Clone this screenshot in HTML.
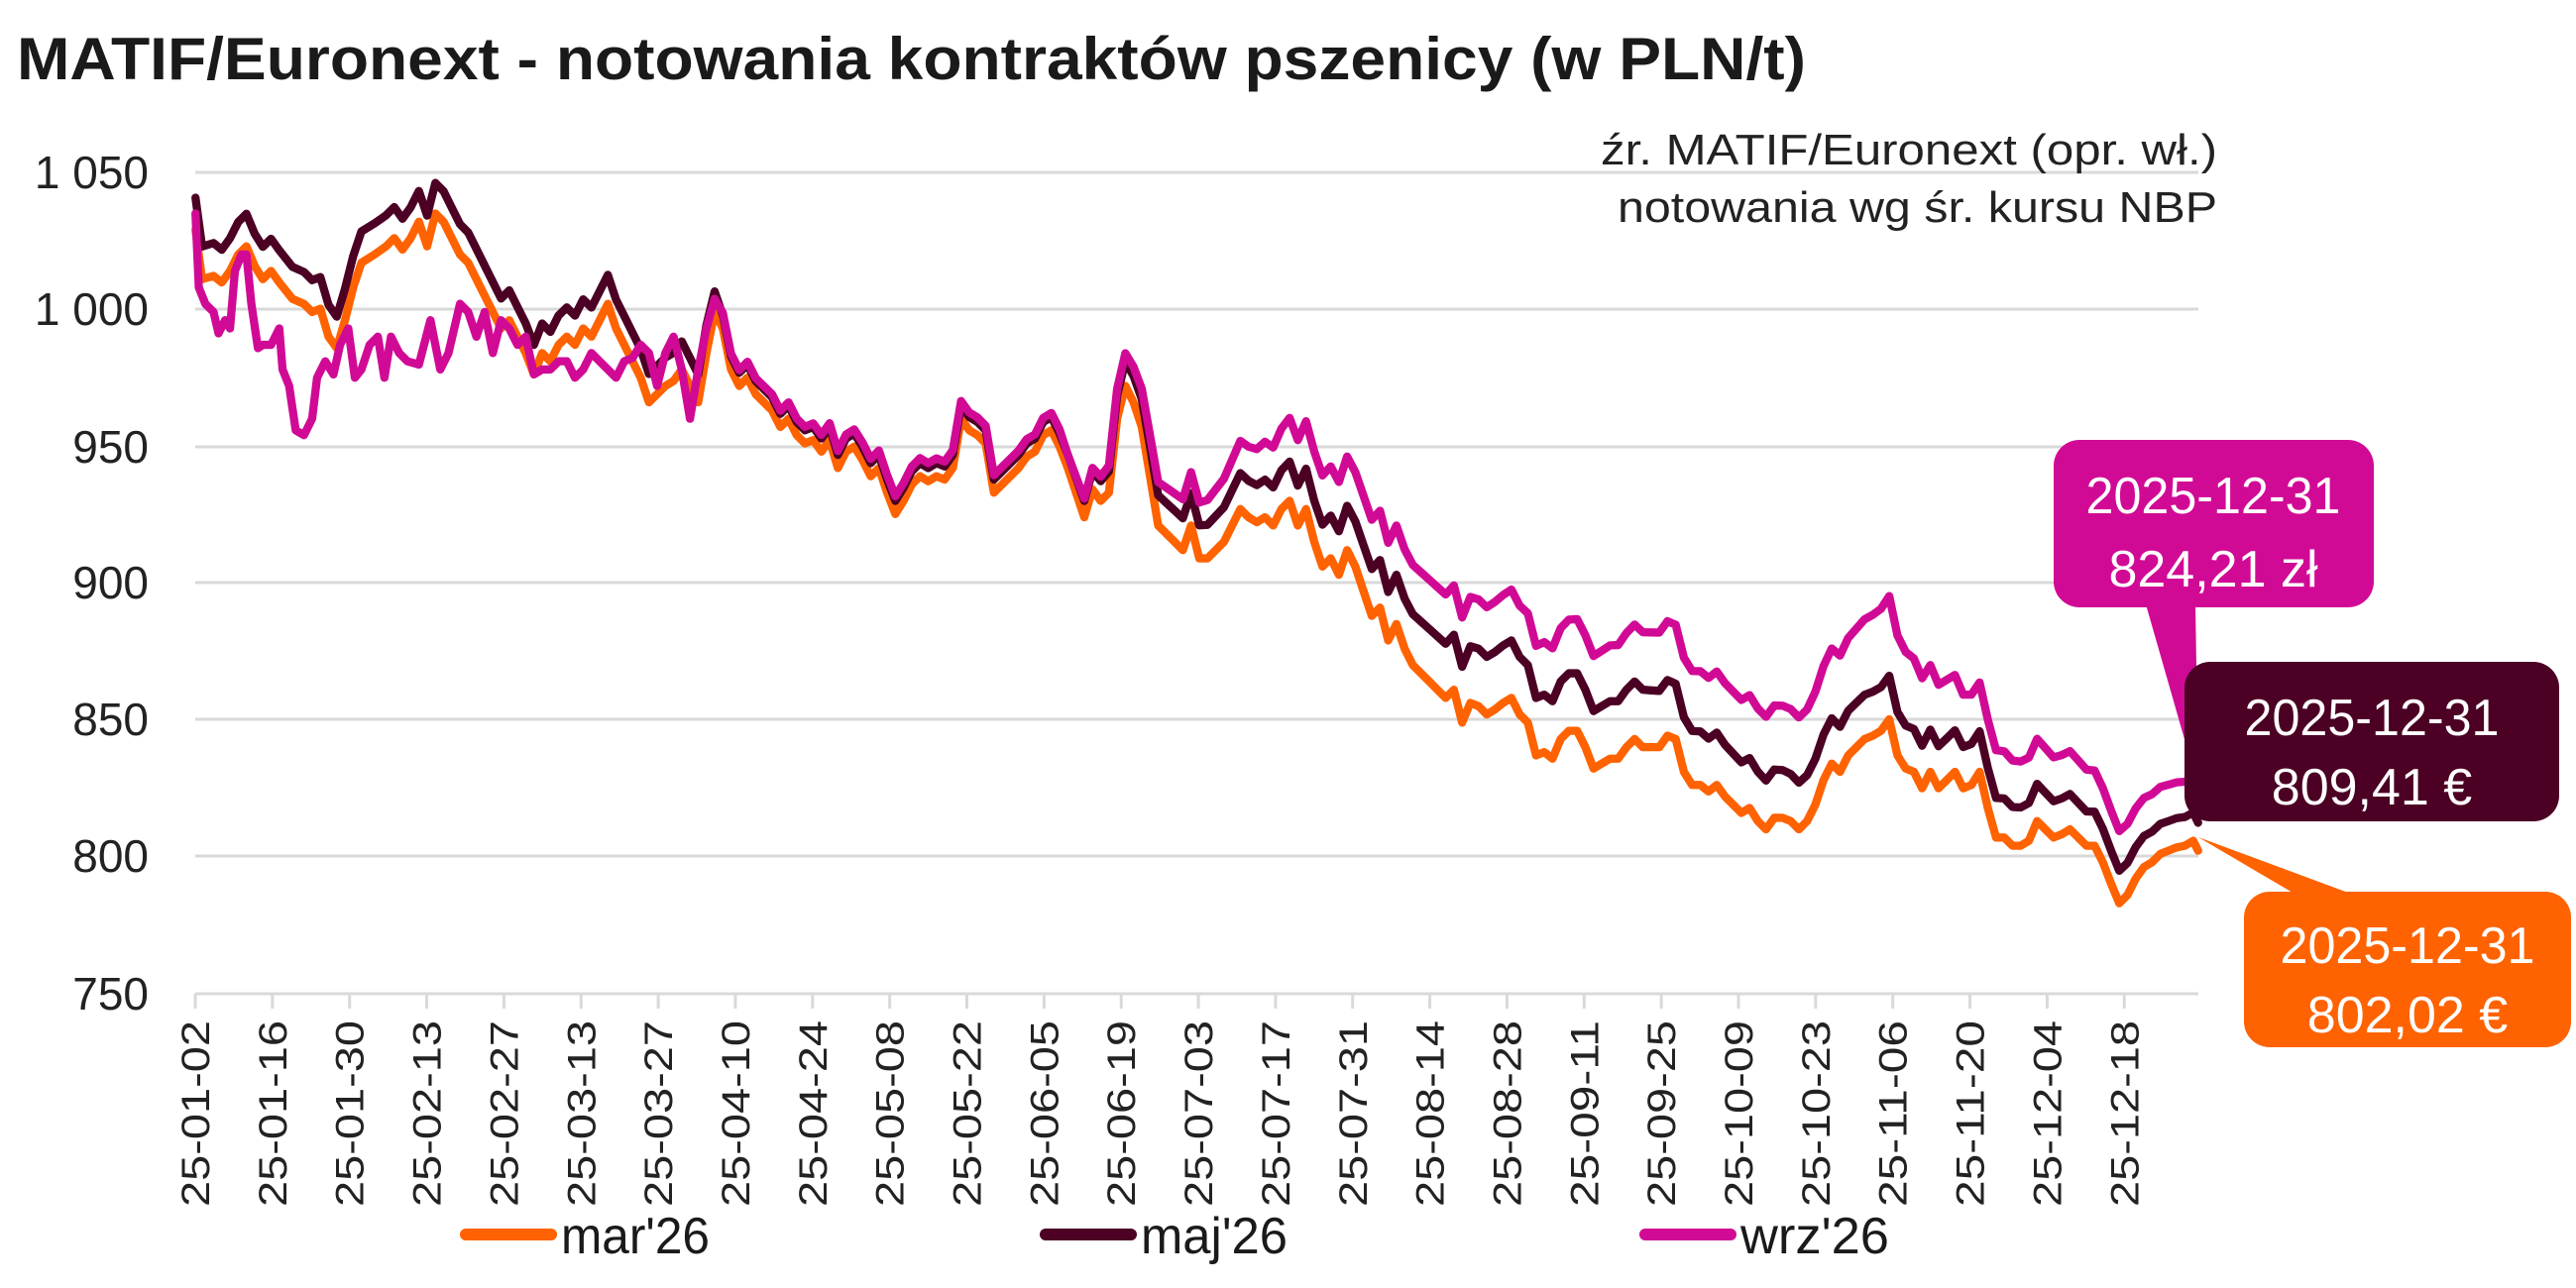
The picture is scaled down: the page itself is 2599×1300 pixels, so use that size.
<!DOCTYPE html>
<html><head><meta charset="utf-8"><style>
html,body{margin:0;padding:0;background:#fff;}
svg{display:block;}
text{font-family:"Liberation Sans","DejaVu Sans",sans-serif;}
</style></head><body>
<svg id="s" width="2599" height="1300" viewBox="0 0 2599 1300" xmlns="http://www.w3.org/2000/svg">
<text x="17" y="80" font-size="60" font-weight="bold" fill="#1a1a1a" textLength="1805" lengthAdjust="spacingAndGlyphs">MATIF/Euronext - notowania kontraktów pszenicy (w PLN/t)</text>
<g stroke="#d9d9d9" stroke-width="3">
<line x1="197" y1="174" x2="2218" y2="174"/><line x1="197" y1="312" x2="2218" y2="312"/>
<line x1="197" y1="451" x2="2218" y2="451"/><line x1="197" y1="588" x2="2218" y2="588"/>
<line x1="197" y1="726" x2="2218" y2="726"/><line x1="197" y1="864" x2="2218" y2="864"/>
<line x1="197" y1="1003" x2="2218" y2="1003"/>
</g>
<g font-size="46" fill="#222" text-anchor="end">
<text x="150" y="190">1 050</text><text x="150" y="328">1 000</text><text x="150" y="467">950</text>
<text x="150" y="604">900</text><text x="150" y="742">850</text><text x="150" y="880">800</text><text x="150" y="1019">750</text>
</g>
<g font-size="44" fill="#222" text-anchor="end">
<text x="2237" y="166" textLength="622" lengthAdjust="spacingAndGlyphs">źr. MATIF/Euronext (opr. wł.)</text>
<text x="2237" y="224" textLength="605" lengthAdjust="spacingAndGlyphs">notowania wg śr. kursu NBP</text>
</g>
<g id="ticks" stroke="#d9d9d9" stroke-width="3"></g>
<g id="xl" font-size="40" fill="#222"></g>
<g id="series" fill="none" stroke-width="5" stroke-linejoin="round" stroke-linecap="round" transform="scale(1.6575)"></g>
<!-- callouts -->
<polygon points="2165,610 2215,610 2218,795" fill="#d10a96"/>
<rect x="2072" y="444" width="323" height="169" rx="26" fill="#d10a96"/>
<text x="2233" y="518" font-size="52" fill="#fff" text-anchor="middle" textLength="257" lengthAdjust="spacingAndGlyphs">2025-12-31</text>
<text x="2233" y="592" font-size="52" fill="#fff" text-anchor="middle">824,21 zł</text>
<polygon points="2215,780 2235,740 2240,800" fill="#4b0024"/>
<rect x="2204" y="668" width="378" height="161" rx="26" fill="#4b0024"/>
<text x="2393" y="742" font-size="52" fill="#fff" text-anchor="middle" textLength="257" lengthAdjust="spacingAndGlyphs">2025-12-31</text>
<text x="2393" y="812" font-size="52" fill="#fff" text-anchor="middle">809,41 €</text>
<polygon points="2218,845 2320,905 2380,905" fill="#ff6200"/>
<rect x="2264" y="900" width="330" height="157" rx="26" fill="#ff6200"/>
<text x="2429" y="972" font-size="52" fill="#fff" text-anchor="middle" textLength="257" lengthAdjust="spacingAndGlyphs">2025-12-31</text>
<text x="2429" y="1042" font-size="52" fill="#fff" text-anchor="middle">802,02 €</text>
<!-- legend -->
<g stroke-width="12" stroke-linecap="round">
<line x1="470" y1="1246" x2="556" y2="1246" stroke="#ff6200"/>
<line x1="1055" y1="1246" x2="1141" y2="1246" stroke="#4b0024"/>
<line x1="1660" y1="1246" x2="1746" y2="1246" stroke="#d10a96"/>
</g>
<g font-size="52" fill="#1a1a1a">
<text x="566" y="1265" textLength="150" lengthAdjust="spacingAndGlyphs">mar'26</text><text x="1151" y="1265" textLength="148" lengthAdjust="spacingAndGlyphs">maj'26</text><text x="1756" y="1265" textLength="150" lengthAdjust="spacingAndGlyphs">wrz'26</text>
</g>
</svg>
<script>
var NS="http://www.w3.org/2000/svg";
var labels=["25-01-02","25-01-16","25-01-30","25-02-13","25-02-27","25-03-13","25-03-27","25-04-10","25-04-24","25-05-08","25-05-22","25-06-05","25-06-19","25-07-03","25-07-17","25-07-31","25-08-14","25-08-28","25-09-11","25-09-25","25-10-09","25-10-23","25-11-06","25-11-20","25-12-04","25-12-18"];
var tk=document.getElementById("ticks"),xl=document.getElementById("xl");
labels.forEach(function(l,i){var x=197+i*77.85;
var ln=document.createElementNS(NS,"line");ln.setAttribute("x1",x);ln.setAttribute("x2",x);ln.setAttribute("y1",1003);ln.setAttribute("y2",1018);tk.appendChild(ln);
var t=document.createElementNS(NS,"text");t.setAttribute("transform","translate("+(x+14)+",1218) rotate(-90)");t.setAttribute("textLength","188");t.setAttribute("lengthAdjust","spacingAndGlyphs");t.textContent=l;xl.appendChild(t);});
var O=[[119,140],[123,170],[130,168],[135,172],[140,165],[145,155],[150,150],[155,162],[160,170],[165,165],[170,172],[178,182],[185,185],[190,190],[195,188],[200,205],[205,212],[210,195],[215,175],[220,160],[228,155],[235,150],[240,145],[245,152],[250,145],[255,135],[260,150],[265,130],[270,135],[275,145],[280,155],[285,160],[290,170],[295,180],[300,190],[305,200],[310,195],[315,205],[320,215],[325,228],[330,215],[335,220],[340,210],[345,205],[350,210],[355,200],[360,205],[365,195],[370,185],[375,200],[380,210],[385,220],[390,230],[395,245],[400,240],[405,235],[410,232],[415,225],[420,235],[425,245],[430,215],[435,190],[440,200],[445,225],[450,235],[455,230],[460,240],[465,245],[470,250],[475,260],[480,255],[485,265],[490,270],[495,268],[500,275],[505,268],[510,285],[515,275],[520,272],[525,280],[530,290],[535,285],[540,300],[545,313],[550,305],[555,295],[560,290],[565,293],[570,290],[575,292],[580,285],[585,255],[590,262],[595,265],[600,270],[605,300],[610,295],[615,290],[620,285],[625,278],[630,275],[635,265],[640,262],[645,272],[650,285],[655,300],[660,315],[665,298],[670,305],[675,300],[680,255],[685,235],[690,245],[695,260],[700,290],[705,320],[710,325],[715,330],[720,335],[725,320],[730,340],[735,340],[740,335],[745,330],[750,320],[755,310],[760,315],[765,318],[770,315],[775,320],[780,310],[785,305],[790,320],[795,310],[800,330],[805,345],[810,340],[815,350],[820,335],[825,345],[830,360],[835,375],[840,370],[845,390],[850,380],[855,395],[860,405],[865,410],[870,415],[875,420],[880,425],[885,420],[890,440],[895,428],[900,430],[905,435],[910,432],[915,428],[920,425],[925,435],[930,440],[935,460],[940,458],[945,462],[950,450],[955,445],[960,445],[965,455],[970,468],[975,465],[980,462],[985,462],[990,455],[995,450],[1000,455],[1005,455],[1010,455],[1015,448],[1020,450],[1025,470],[1030,478],[1035,478],[1040,482],[1045,478],[1050,485],[1055,490],[1060,495],[1065,492],[1070,500],[1075,505],[1080,498],[1085,498],[1090,500],[1095,505],[1100,500],[1105,490],[1110,475],[1115,465],[1120,470],[1125,460],[1130,455],[1135,450],[1140,448],[1145,445],[1150,438],[1155,460],[1160,468],[1165,470],[1170,480],[1175,470],[1180,480],[1185,475],[1190,470],[1195,480],[1200,478],[1205,470],[1210,492],[1215,510],[1220,510],[1225,515],[1230,515],[1235,512],[1240,500],[1245,505],[1250,510],[1255,508],[1260,505],[1265,510],[1270,515],[1275,515],[1280,525],[1285,538],[1290,550],[1295,545],[1300,535],[1305,528],[1310,525],[1315,520],[1320,518],[1325,516],[1330,515],[1335,512],[1338,518]];
var PE=[[119,130],[121,175],[125,185],[130,190],[133,203],[137,195],[140,200],[143,165],[147,155],[150,155],[153,185],[157,212],[160,210],[165,210],[170,200],[172,225],[176,235],[180,262],[185,265],[190,255],[193,230],[198,220],[203,228],[207,210],[212,200],[216,230],[220,225],[225,210],[230,205],[234,230],[238,205],[243,215],[248,220],[255,222],[262,195],[268,225],[273,215],[280,185],[285,190],[290,205],[295,190],[300,215],[305,195],[310,200],[315,210],[320,205],[325,228],[330,225],[335,225],[340,220],[345,220],[350,230],[355,225],[360,215],[365,220],[370,225],[375,230],[380,220],[385,218],[390,210],[395,215],[400,235],[405,215],[410,205],[415,225],[420,255],[425,225],[430,200],[435,182]];
function interp(t,x){if(x<=t[0][0])return t[0][1];for(var i=1;i<t.length;i++){if(x<=t[i][0]){var a=t[i-1],b=t[i];return a[1]+(b[1]-a[1])*(x-a[0])/(b[0]-a[0]);}}return t[t.length-1][1];}
var gM=[[0,12],[125,20],[430,17],[440,8],[650,8],[700,18],[800,25],[900,35],[1000,35],[1100,28],[1200,25],[1338,17]];
var gP=[[440,5],[560,10],[650,8],[700,25],[800,55],[900,65],[1000,70],[1100,68],[1150,75],[1200,55],[1338,38]];
function pts(a){return a.map(function(p){return p[0].toFixed(1)+","+p[1].toFixed(1)}).join(" ");}
var M=O.map(function(p){return [p[0],p[1]-interp(gM,p[0])];});
var P=PE.concat(O.filter(function(p){return p[0]>=440;}).map(function(p){return [p[0],p[1]-interp(gM,p[0])-(p[0]>=650?interp(gP,p[0])-interp(gM,p[0]):interp(gP,p[0])*0.3)];}));
var g=document.getElementById("series");
[[O,"#ff6200"],[M,"#4b0024"],[P,"#d10a96"]].forEach(function(s){var pl=document.createElementNS(NS,"polyline");pl.setAttribute("points",pts(s[0]));pl.setAttribute("stroke",s[1]);g.appendChild(pl);});
</script>
</body></html>
